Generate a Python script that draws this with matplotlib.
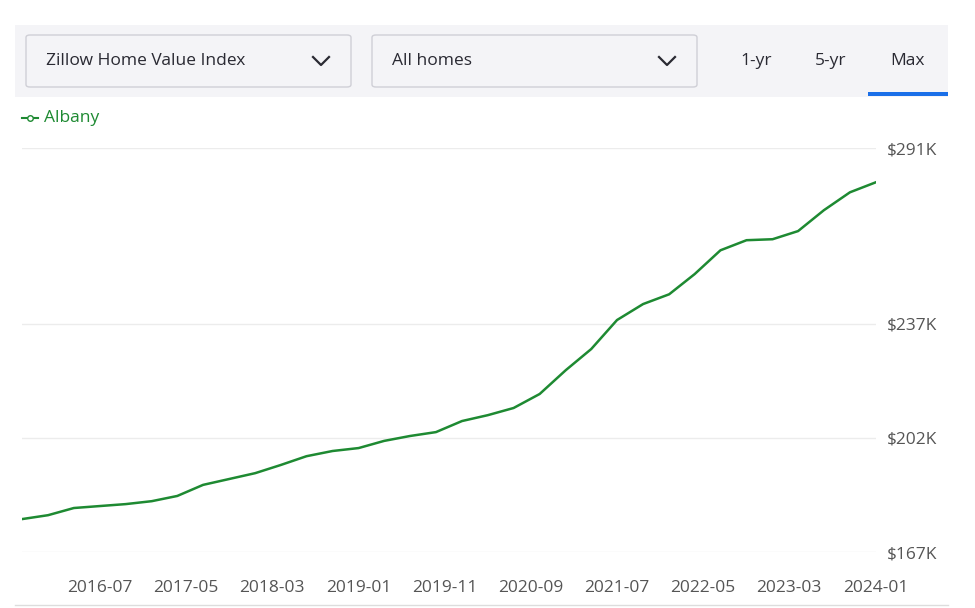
import numpy as np
import pandas as pd
import matplotlib.pyplot as plt
from matplotlib.patches import FancyBboxPatch, Rectangle
from matplotlib.lines import Line2D

# quarterly Zillow Home Value Index for Albany, in $K
dates = pd.date_range("2015-10-01", "2024-01-01", freq="QS-OCT")
values = [177.1, 178.3, 180.5, 181.1, 181.7, 182.6, 184.2, 187.6, 189.4, 191.2,
          193.7, 196.4, 198.0, 198.9, 201.1, 202.6, 203.8, 207.2, 209.0, 211.2,
          215.5, 222.8, 229.3, 238.2, 243.1, 246.1, 252.3, 259.6, 262.7, 263.0,
          265.5, 271.9, 277.4, 280.5]
yticks = [167, 202, 237, 291]
xtick_labels = ["2016-07", "2017-05", "2018-03", "2019-01", "2019-11",
                "2020-09", "2021-07", "2022-05", "2023-03", "2024-01"]

W, H = 975, 608
fig = plt.figure(figsize=(9.75, 6.08), dpi=100)
green = "#1e8a32"
grey = "#555555"
fs = 12.5

# top control bar
fig.patches.append(Rectangle((15 / W, 1 - 97 / H), 933 / W, 72 / H, transform=fig.transFigure,
                             facecolor="#f4f4f7", edgecolor="none"))
for x0, x1, label in [(26, 351, "Zillow Home Value Index"), (372, 697, "All homes")]:
    fig.patches.append(FancyBboxPatch((x0 / W, 1 - 87 / H), (x1 - x0) / W, 52 / H,
                                      boxstyle="round,pad=0,rounding_size=0.004",
                                      transform=fig.transFigure, facecolor="#f4f4f7",
                                      edgecolor="#cfcfd6", linewidth=1))
    fig.text((x0 + 20) / W, 1 - 61 / H, label, fontsize=fs, color="#2a2a33",
             va="center", family="Open Sans")
    cx, cy = (x1 - 30) / W, 1 - 61 / H
    fig.lines.append(Line2D([cx - 8 / W, cx, cx + 8 / W], [cy + 4 / H, cy - 4 / H, cy + 4 / H],
                            transform=fig.transFigure, color="#2a2a33", linewidth=1.6))
for x, label in [(756, "1-yr"), (831, "5-yr"), (908, "Max")]:
    fig.text(x / W, 1 - 61 / H, label, fontsize=fs, color="#2a2a33", ha="center",
             va="center", family="Open Sans")
fig.patches.append(Rectangle((868 / W, 1 - 96 / H), 80 / W, 4 / H, transform=fig.transFigure,
                             facecolor="#1a6fe8", edgecolor="none"))

# legend
fig.lines.append(Line2D([22 / W, 38 / W], [1 - 118 / H] * 2, transform=fig.transFigure,
                        color=green, linewidth=1.5))
fig.lines.append(Line2D([30 / W], [1 - 118 / H], transform=fig.transFigure, marker="o",
                        markersize=4, markerfacecolor="white", markeredgecolor=green))
fig.text(44 / W, 1 - 118 / H, "Albany", fontsize=fs, color=green, va="center",
         family="Open Sans")

# chart
ax = fig.add_axes([22 / W, 1 - 552 / H, (876 - 22) / W, (552 - 148) / H])
ax.plot(dates, values, color=green, linewidth=1.8)
ax.set_ylim(167, 291)
ax.set_xlim(dates[0], dates[-1])
ax.set_yticks(yticks)
ax.set_yticklabels([f"${v}K" for v in yticks])
ax.yaxis.tick_right()
ax.set_xticks(pd.to_datetime(xtick_labels))
ax.set_xticklabels(xtick_labels)
ax.grid(axis="y", color="#ececec", linewidth=1)
ax.tick_params(length=0, labelsize=fs, labelcolor=grey)
ax.tick_params(axis="x", pad=20)
ax.tick_params(axis="y", pad=8)
for lab in ax.get_xticklabels() + ax.get_yticklabels():
    lab.set_family("Open Sans")
for s in ax.spines.values():
    s.set_visible(False)

fig.lines.append(Line2D([15 / W, 948 / W], [1 - 605 / H] * 2, transform=fig.transFigure,
                        color="#dddddd", linewidth=1))

fig.savefig("out.png", dpi=100)
